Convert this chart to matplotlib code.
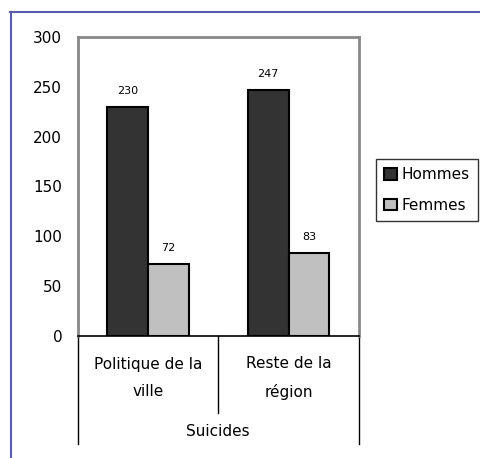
import matplotlib
matplotlib.use('Agg')
import matplotlib.pyplot as plt
from matplotlib.lines import Line2D
from matplotlib.transforms import blended_transform_factory
import numpy as np

# data
categories = ['Politique de la\nville', 'Reste de la\nrégion']
group_label = 'Suicides'
hommes = [230, 247]
femmes = [72, 83]
series_names = ['Hommes', 'Femmes']
yticks = [0, 50, 100, 150, 200, 250, 300]

W, H = 481, 458
fig = plt.figure(figsize=(W / 100, H / 100), dpi=100)
plt.rcParams['font.family'] = ['DejaVu Sans']

# axes placed in pixels
left, right, top, bottom = 77.5, 359, 37, 336
ax = fig.add_axes([left / W, 1 - bottom / H, (right - left) / W, (bottom - top) / H])

x = np.arange(len(categories))
bw = 0.29
b1 = ax.bar(x - bw / 2, hommes, bw, color='#333333', edgecolor='black', linewidth=1.5, label=series_names[0])
b2 = ax.bar(x + bw / 2, femmes, bw, color='#c0c0c0', edgecolor='black', linewidth=1.5, label=series_names[1])
ax.bar_label(b1, padding=8, fontsize=8)
ax.bar_label(b2, padding=8, fontsize=8)

ax.set_xlim(-0.5, 1.5)
ax.set_ylim(0, 300)
ax.set_yticks(yticks)
ax.tick_params(axis='y', length=0, pad=11, labelsize=11)
ax.set_xticks([])

for s in ['left', 'top', 'right']:
    ax.spines[s].set_color('#888888')
    ax.spines[s].set_linewidth(2)
ax.spines['bottom'].set_color('black')
ax.spines['bottom'].set_linewidth(1.2)

# category axis with divider lines
tr = blended_transform_factory(ax.transData, ax.transAxes)
ph = bottom - top
short = -77 / ph
long_ = -108 / ph
for xd, yl in [(-0.5, long_), (0.5, short), (1.5, long_)]:
    ax.plot([xd, xd], [0, yl], color='black', lw=1, transform=tr, clip_on=False)
for xi, lab in zip(x, categories):
    ax.text(xi, -42 / ph, lab, transform=tr, ha='center', va='center',
            fontsize=11, linespacing=2.0)
ax.text(0.5, -96 / ph, group_label, transform=tr, ha='center', va='center', fontsize=11)

# legend
leg = ax.legend(loc='upper left', bbox_to_anchor=(376 / W, 1 - 159 / H),
                bbox_transform=fig.transFigure, borderaxespad=0, fancybox=False,
                edgecolor='black', fontsize=11, handlelength=0.8, handleheight=0.8,
                handletextpad=0.3, labelspacing=1.0, borderpad=0.55)
leg.get_frame().set_linewidth(1)

# outer frame lines (blue)
fc = '#5b5bb0'
fig.add_artist(Line2D([10.5 / W, 10.5 / W], [1 - 11.5 / H, 0], color=fc, lw=1.5, transform=fig.transFigure))
fig.add_artist(Line2D([10 / W, 1], [1 - 11.5 / H, 1 - 11.5 / H], color=fc, lw=1.5, transform=fig.transFigure))

fig.savefig('out.png', dpi=100)
